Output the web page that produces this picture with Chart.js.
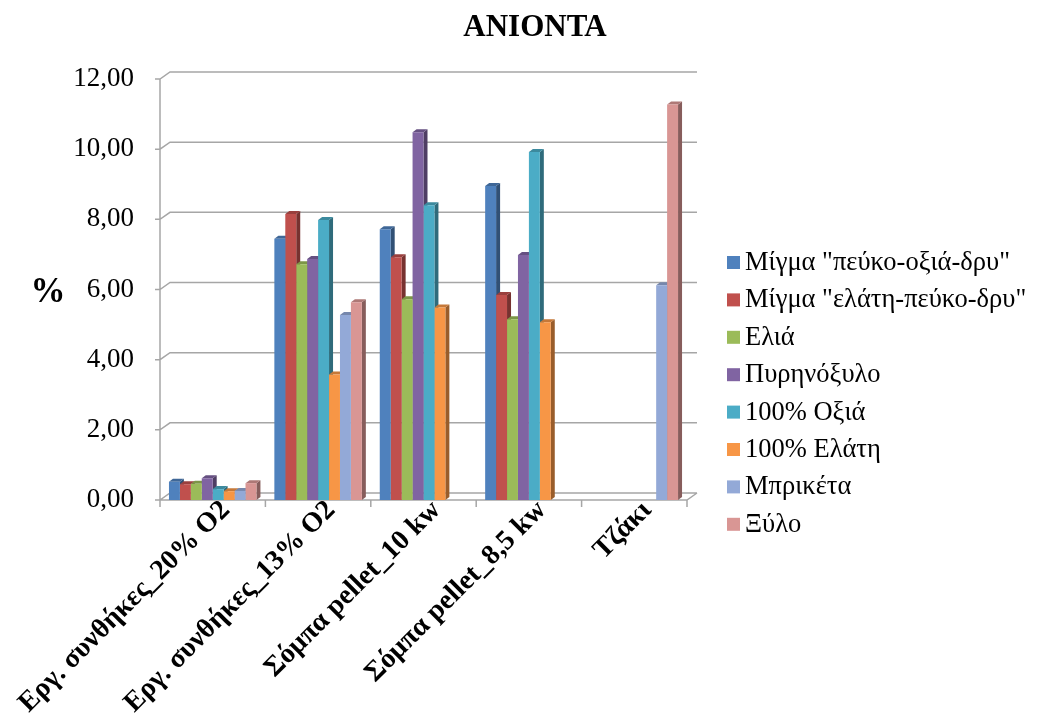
<!DOCTYPE html>
<html>
<head>
<meta charset="utf-8">
<title>ΑΝΙΟΝΤΑ</title>
<script src="https://cdn.jsdelivr.net/npm/chart.js@4.4.0/dist/chart.umd.min.js"></script>
<style>
  html, body { margin: 0; padding: 0; background: #ffffff; }
  canvas { display: block; }
</style>
</head>
<body>
<canvas id="chart" width="1045" height="724"></canvas>
<script>
// Combustion conditions / appliances
const categories = [
  "Εργ. συνθήκες_20% O2",
  "Εργ. συνθήκες_13% O2",
  "Σόμπα pellet_10 kw",
  "Σόμπα pellet_8,5 kw",
  "Τζάκι"
];

// Fuel types (legend entries)
const seriesNames = [
  "Μίγμα \"πεύκο-οξιά-δρυ\"",
  "Μίγμα \"ελάτη-πεύκο-δρυ\"",
  "Ελιά",
  "Πυρηνόξυλο",
  "100% Οξιά",
  "100% Ελάτη",
  "Μπρικέτα",
  "Ξύλο"
];

// Anion content (%) per fuel, one value per category
const mixPineBeechOak = [0.52, 7.45, 7.72, 8.95, null];
const mixFirPineOak   = [0.45, 8.15, 6.92, 5.84, null];
const olive           = [0.46, 6.72, 5.72, 5.15, null];
const pitWood         = [0.62, 6.87, 10.48, 6.98, null];
const beech100        = [0.31, 7.98, 8.40, 9.92, null];
const fir100          = [0.25, 3.58, 5.49, 5.07, null];
const briquette       = [0.26, 5.27, null, null, 6.12];
const logWood         = [0.48, 5.64, null, null, 11.27];

const seriesValues = [mixPineBeechOak, mixFirPineOak, olive, pitWood, beech100, fir100, briquette, logWood];

const seriesColors = ["#4F81BD", "#C0504D", "#9BBB59", "#8064A2", "#4BACC6", "#F79646", "#93A9D7", "#D99694"];

// Value axis ticks
const yTicks = [0, 2, 4, 6, 8, 10, 12];

const SERIF = "'Liberation Serif', 'Times New Roman', serif";
const GRID = "#a6a6a6";
const WALL_DX = 10, WALL_DY = 7;   // depth of the back wall
const BAR_DX = 4, BAR_DY = 3;      // depth of each column

function shade(hex, f) {
  const n = parseInt(hex.slice(1), 16);
  const r = Math.round(((n >> 16) & 255) * f);
  const g = Math.round(((n >> 8) & 255) * f);
  const b = Math.round((n & 255) * f);
  return `rgb(${r},${g},${b})`;
}

// Back wall, floor, tick marks and the side/top faces of the columns
const depthPlugin = {
  id: 'depth',
  beforeDatasetsDraw(chart) {
    const { ctx, chartArea: a, scales: { x, y } } = chart;
    ctx.save();
    ctx.strokeStyle = GRID;
    ctx.lineWidth = 1.5;
    ctx.beginPath();
    yTicks.forEach(v => {
      const py = y.getPixelForValue(v);
      ctx.moveTo(a.left - 5, py);
      ctx.lineTo(a.left, py);
      ctx.lineTo(a.left + WALL_DX, py - WALL_DY);
      ctx.lineTo(a.right + WALL_DX, py - WALL_DY);
    });
    // left wall edge
    ctx.moveTo(a.left, y.getPixelForValue(yTicks[yTicks.length - 1]));
    ctx.lineTo(a.left, a.bottom);
    // floor front edge
    ctx.lineTo(a.right, a.bottom);
    ctx.lineTo(a.right + WALL_DX, a.bottom - WALL_DY);
    // category tick marks
    const n = categories.length;
    for (let i = 0; i <= n; i++) {
      const px = a.left + i * (a.right - a.left) / n;
      ctx.moveTo(px, a.bottom);
      ctx.lineTo(px, a.bottom + 7);
    }
    ctx.stroke();

    chart.data.datasets.forEach((ds, di) => {
      const meta = chart.getDatasetMeta(di);
      meta.data.forEach((bar, i) => {
        if (ds.data[i] == null) return;
        const p = bar.getProps(['x', 'y', 'base', 'width'], true);
        const l = p.x - p.width / 2, r = p.x + p.width / 2;
        const top = p.y, base = p.base;
        ctx.fillStyle = shade(seriesColors[di], 0.62);
        ctx.beginPath();
        ctx.moveTo(r, top);
        ctx.lineTo(r + BAR_DX, top - BAR_DY);
        ctx.lineTo(r + BAR_DX, base - BAR_DY);
        ctx.lineTo(r, base);
        ctx.closePath();
        ctx.fill();
        ctx.fillStyle = shade(seriesColors[di], 0.8);
        ctx.beginPath();
        ctx.moveTo(l, top);
        ctx.lineTo(l + BAR_DX, top - BAR_DY);
        ctx.lineTo(r + BAR_DX, top - BAR_DY);
        ctx.lineTo(r, top);
        ctx.closePath();
        ctx.fill();
      });
    });
    ctx.restore();
  },
  afterDraw(chart) {
    const { ctx } = chart;
    ctx.save();
    ctx.fillStyle = "#000";
    // title
    ctx.font = `bold 31px ${SERIF}`;
    ctx.textAlign = 'center';
    ctx.textBaseline = 'middle';
    ctx.fillText("ΑΝΙΟΝΤΑ", 535, 28);
    // value axis title
    ctx.font = `bold 35px ${SERIF}`;
    ctx.fillText("%", 48, 293);
    // legend
    ctx.font = `26.5px ${SERIF}`;
    ctx.textAlign = 'left';
    chart.data.datasets.forEach((ds, di) => {
      const cy = 262 + di * 37.4;
      ctx.fillStyle = seriesColors[di];
      ctx.fillRect(727, cy - 6, 13, 13);
      ctx.fillStyle = "#000";
      ctx.fillText(ds.label, 745, cy + 1);
    });
    ctx.restore();
  }
};

const datasets = seriesNames.map((name, i) => ({
  label: name,
  data: seriesValues[i],
  backgroundColor: seriesColors[i],
  borderWidth: 0,
  categoryPercentage: 0.83,
  barPercentage: 1.0
}));

new Chart(document.getElementById('chart'), {
  type: 'bar',
  data: { labels: categories, datasets },
  plugins: [depthPlugin],
  options: {
    responsive: false,
    animation: false,
    layout: { padding: { top: 79, right: 358, left: 0, bottom: 0 } },
    plugins: {
      legend: { display: false },
      title: { display: false },
      tooltip: { enabled: false }
    },
    scales: {
      x: {
        grid: { display: false },
        border: { display: false },
        ticks: {
          autoSkip: false,
          minRotation: 45,
          maxRotation: 45,
          padding: -14,
          labelOffset: 13,
          color: "#000",
          font: { family: SERIF, size: 28, weight: 'bold' }
        },
        afterFit(s) { s.height = 224; s.paddingLeft = 0; s.paddingRight = 0; }
      },
      y: {
        min: 0,
        max: 12,
        grid: { display: false },
        border: { display: false },
        ticks: {
          stepSize: 2,
          padding: 18,
          color: "#000",
          font: { family: SERIF, size: 27 },
          callback: v => v.toFixed(2).replace('.', ',')
        },
        afterFit(s) { s.width = 160; }
      }
    }
  }
});
</script>
</body>
</html>
